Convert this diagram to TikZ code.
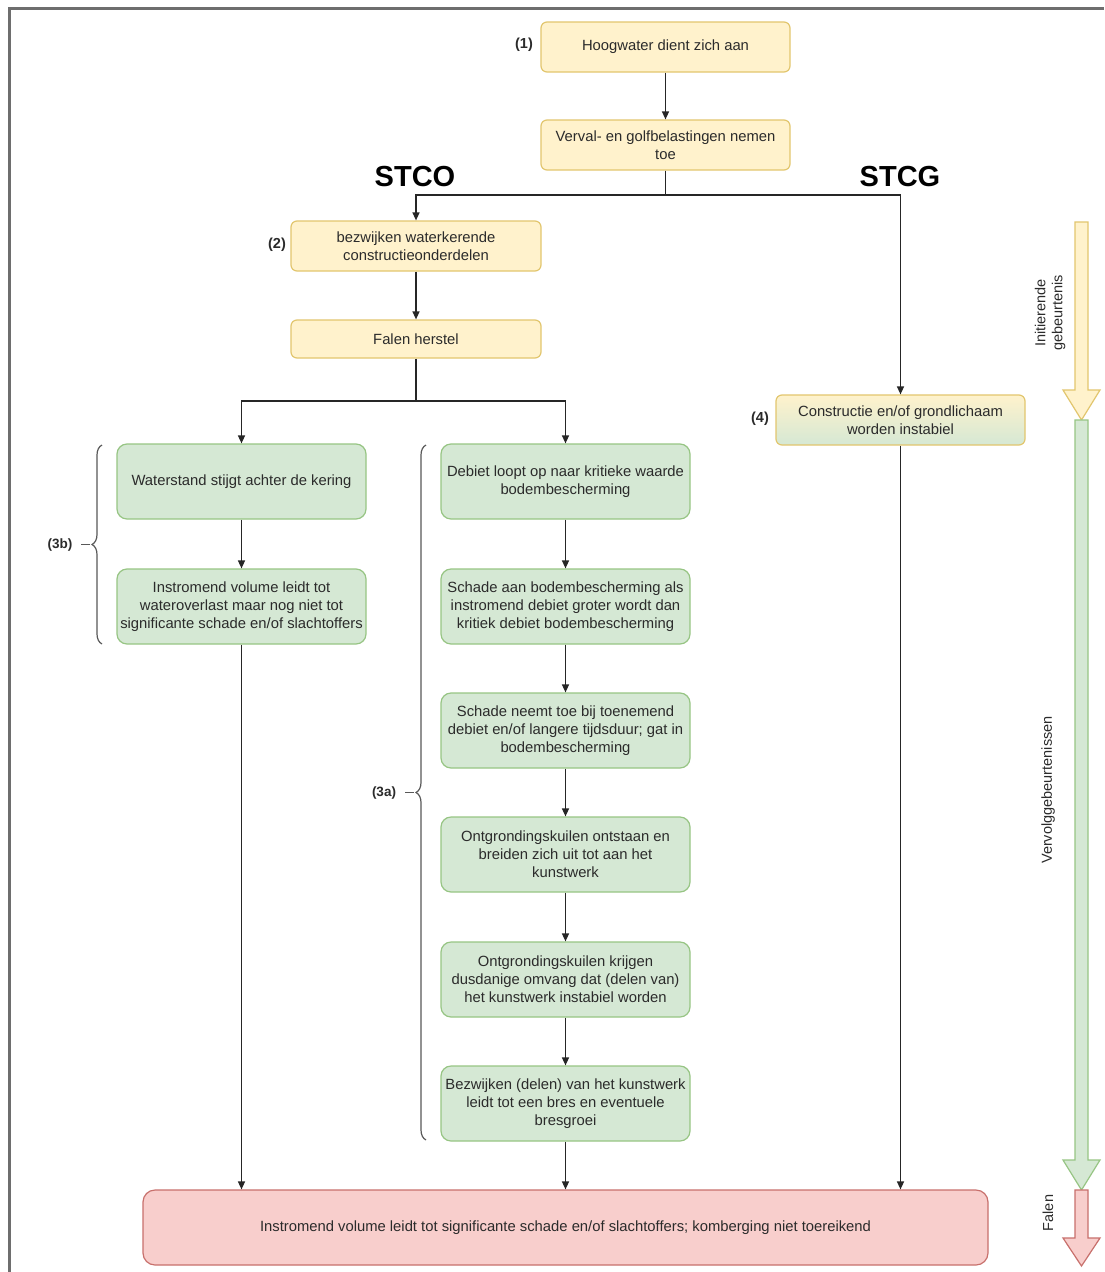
\documentclass[tikz,border=0pt]{standalone}
\usepackage{fontspec}
\setmainfont{Liberation Sans}
\usetikzlibrary{arrows.meta,decorations.pathreplacing}
\definecolor{yfill}{HTML}{FFF2CC}
\definecolor{ystroke}{HTML}{E2C66E}
\definecolor{gfill}{HTML}{D5E8D4}
\definecolor{gstroke}{HTML}{97C584}
\definecolor{rfill}{HTML}{F8CECC}
\definecolor{rstroke}{HTML}{C8706C}
\definecolor{txt}{HTML}{2B2B2B}
\definecolor{framegray}{HTML}{6E6E6E}
\begin{document}
\begin{tikzpicture}[x=1pt,y=-1pt,
  box/.style={draw, minimum width=249pt, minimum height=50pt, align=center, inner sep=2pt,
    font=\fontsize{14.8}{18}\selectfont, text=txt, line width=1.2pt},
  ybox/.style={box, fill=yfill, draw=ystroke, rounded corners=6pt},
  gbox/.style={box, fill=gfill, draw=gstroke, rounded corners=10pt, minimum height=75pt},
  rbox/.style={box, fill=rfill, draw=rstroke, rounded corners=12pt, minimum height=75pt, minimum width=845pt},
  wire/.style={draw=black!85, line width=1.4pt},
  conn/.style={wire, -{Triangle[length=8pt,width=7pt]}},
  tag/.style={font=\bfseries\fontsize{14.5}{18}\selectfont, text=txt},
  bigtag/.style={font=\bfseries\fontsize{29}{34}\selectfont, text=black},
  brace/.style={draw=black!65, line width=1.2pt, decorate, decoration={brace, amplitude=10pt}},
  sidelabel/.style={rotate=90, align=center, font=\fontsize{14.5}{17}\selectfont, text=txt},
  bigarrow/.style={line width=1.2pt}
]
\useasboundingbox (0,0) rectangle (1104,1272);
\fill[white] (0,0) rectangle (1104,1272);
\draw[framegray, line width=2.5pt] (9.5,1272) -- (9.5,8.5) -- (1104,8.5);

% top nodes
\node[ybox] (n1) at (665.5,47) {Hoogwater dient zich aan};
\node[ybox] (n2) at (665.5,145) {Verval- en golfbelastingen nemen\\toe};
\node[ybox, minimum width=250pt] (n3) at (416,246) {bezwijken waterkerende\\constructieonderdelen};
\node[ybox, minimum width=250pt, minimum height=38pt] (n4) at (416,339) {Falen herstel};
\node[box, top color=yfill, bottom color=gfill, draw=ystroke, rounded corners=6pt] (n5) at (900.5,420) {Constructie en/of grondlichaam\\worden instabiel};

\node[tag] (t1) at (524,45) {(1)};
\node[tag] (t2) at (277,245) {(2)};
\node[tag] (t4) at (760,419) {(4)};
\node[bigtag] (stco) at (415,177) {STCO};
\node[bigtag] (stcg) at (900,177) {STCG};

% green nodes
\node[gbox] (g1) at (241.5,481.5) {Waterstand stijgt achter de kering};
\node[gbox] (g2) at (241.5,606.5) {Instromend volume leidt tot\\wateroverlast maar nog niet tot\\significante schade en/of slachtoffers};
\node[gbox] (m1) at (565.5,481.5) {Debiet loopt op naar kritieke waarde\\bodembescherming};
\node[gbox] (m2) at (565.5,606.5) {Schade aan bodembescherming als\\instromend debiet groter wordt dan\\kritiek debiet bodembescherming};
\node[gbox] (m3) at (565.5,730.5) {Schade neemt toe bij toenemend\\debiet en/of langere tijdsduur; gat in\\bodembescherming};
\node[gbox] (m4) at (565.5,854.5) {Ontgrondingskuilen ontstaan en\\breiden zich uit tot aan het\\kunstwerk};
\node[gbox] (m5) at (565.5,979.5) {Ontgrondingskuilen krijgen\\dusdanige omvang dat (delen van)\\het kunstwerk instabiel worden};
\node[gbox] (m6) at (565.5,1103.5) {Bezwijken (delen) van het kunstwerk\\leidt tot een bres en eventuele\\bresgroei};

\node[rbox] (r) at (565.5,1227.5) {Instromend volume leidt tot significante schade en/of slachtoffers; komberging niet toereikend};

% connectors
\coordinate (jl) at (416,195);
\coordinate (jr) at (900.5,195);
\coordinate (j2) at (416,401);
\draw[conn] (n1) -- (n2);
\draw[conn] (n2.south) |- (jl) -- (n3.north);
\draw[conn] (n2.south) |- (jr) -- (n5.north);
\draw[conn] (n3) -- (n4);
\draw[conn] (n4.south) -- (j2) -| (g1.north);
\draw[conn] (j2) -| (m1.north);
\draw[conn] (g1) -- (g2);
\draw[conn] (g2.south) -- (g2.south |- r.north);
\draw[conn] (m1) -- (m2);
\draw[conn] (m2) -- (m3);
\draw[conn] (m3) -- (m4);
\draw[conn] (m4) -- (m5);
\draw[conn] (m5) -- (m6);
\draw[conn] (m6) -- (r);
\draw[conn] (n5.south) -- (n5.south |- r.north);

% braces
\draw[brace] (102,644) -- (102,445);
\draw[draw=black!65, line width=1.2pt] (81,544.5) -- (90,544.5);
\node[tag, font=\bfseries\fontsize{13.5}{16}\selectfont] (l3b) at (60,545) {(3b)};
\draw[brace] (426,1140) -- (426,445);
\draw[draw=black!65, line width=1.2pt] (405,792.5) -- (414,792.5);
\node[tag, font=\bfseries\fontsize{13.5}{16}\selectfont] (l3a) at (384,793) {(3a)};

% big side arrows
\draw[bigarrow, fill=yfill, draw=ystroke] (1075,222) -- (1088,222) -- (1088,390) -- (1100,390) -- (1081.5,420) -- (1063,390) -- (1075,390) -- cycle;
\draw[bigarrow, fill=gfill, draw=gstroke] (1075,420) -- (1088,420) -- (1088,1160) -- (1100,1160) -- (1081.5,1190) -- (1063,1160) -- (1075,1160) -- cycle;
\draw[bigarrow, fill=rfill, draw=rstroke] (1075,1190) -- (1088,1190) -- (1088,1238) -- (1100,1238) -- (1081.5,1266) -- (1063,1238) -- (1075,1238) -- cycle;

\node[sidelabel] (s1) at (1050,313) {Initierende\\gebeurtenis};
\node[sidelabel] (s2) at (1048,790) {Vervolggebeurtenissen};
\node[sidelabel] (s3) at (1048,1213) {Falen};
\end{tikzpicture}
\end{document}
